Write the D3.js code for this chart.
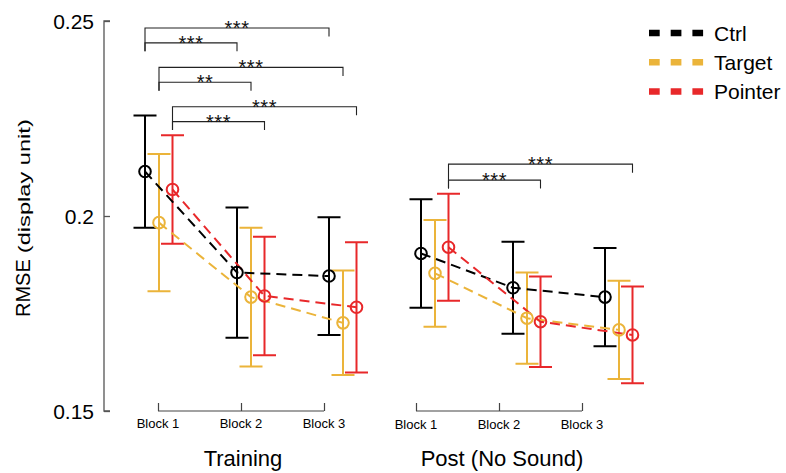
<!DOCTYPE html>
<html>
<head>
<meta charset="utf-8">
<script src="https://cdn.jsdelivr.net/npm/d3@7"></script>
<style>
  html, body { margin: 0; padding: 0; background: #fff; }
  svg { display: block; font-family: "Liberation Sans", Arial, Helvetica, sans-serif; }
</style>
</head>
<body>
<svg id="chart" width="786" height="473"></svg>
<script>
// ---- data ----
const panels = ["Training", "Post (No Sound)"];
const blocks = ["Block 1", "Block 2", "Block 3"];
const seriesNames = ["Ctrl", "Target", "Pointer"];
const seriesColors = ["#000000", "#EBB43A", "#E8282A"];

// mean RMSE per block: Training B1..B3, then Post B1..B3
const ctrlMean    = [0.2114, 0.1855, 0.1846, 0.1904, 0.1816, 0.1792];
const targetMean  = [0.1983, 0.1792, 0.1726, 0.1853, 0.1738, 0.1708];
const pointerMean = [0.2068, 0.1795, 0.1766, 0.1920, 0.1729, 0.1695];
// error bar half-widths
const ctrlErr    = [0.0144, 0.0167, 0.0151, 0.0139, 0.0118, 0.0126];
const targetErr  = [0.0176, 0.0178, 0.0134, 0.0137, 0.0117, 0.0126];
const pointerErr = [0.0139, 0.0152, 0.0167, 0.0137, 0.0116, 0.0124];

const yTicks = [0.15, 0.2, 0.25];
const yTickLabels = ["0.15", "0.2", "0.25"];

// pairwise comparisons: series index, panel, from block, to block, label, bracket height
const sigSeries = [0, 0, 1, 1, 2, 2, 2, 2];
const sigPanel  = [0, 0, 0, 0, 0, 0, 1, 1];
const sigFrom   = [0, 0, 0, 0, 0, 0, 0, 0];
const sigTo     = [2, 1, 2, 1, 2, 1, 2, 1];
const sigLabel  = ["***", "***", "***", "**", "***", "***", "***", "***"];
const sigLevel  = [0.2482, 0.2444, 0.2381, 0.2343, 0.2280, 0.2242, 0.2133, 0.2092];

// ---- layout ----
const svg = d3.select("#chart");
const y = d3.scaleLinear().domain([0.15, 0.25]).range([411, 21]);
const axisX = 104;

// mark positions: six block slots, series dodged around each slot
const xSlot = d3.scaleLinear().domain([0, 5]).range([159, 619]);
const dodge = d3.scaleOrdinal().domain(seriesNames).range([-14, 0, 13.5]);
// category axes, one per panel
const xAxisScales = [
  d3.scalePoint().domain(blocks).range([158, 324]),
  d3.scalePoint().domain(blocks).range([416, 582])
];
const panelCenters = [243, 502];

const means = [ctrlMean, targetMean, pointerMean];
const errs = [ctrlErr, targetErr, pointerErr];

const series = seriesNames.map((name, s) => ({
  name, color: seriesColors[s],
  points: means[s].map((m, i) => ({ slot: i, panel: Math.floor(i / 3), mean: m, err: errs[s][i] }))
}));
const px = (name, slot) => xSlot(slot) + dodge(name);

// ---- y axis ----
const yAxis = svg.append("g").attr("transform", `translate(${axisX},0)`)
  .call(d3.axisRight(y).tickValues(yTicks).tickSize(6).tickFormat(""));
yAxis.select(".domain").attr("d", `M6,${y(0.25)}H0V${y(0.15)}H6`).attr("stroke", "#555").attr("stroke-width", 1.3);
yAxis.selectAll(".tick line").attr("stroke", "#555").attr("stroke-width", 1.3);

svg.append("g").selectAll("text").data(yTicks).join("text")
  .attr("x", axisX - 10).attr("y", d => y(d)).attr("dy", "0.36em")
  .attr("text-anchor", "end").attr("font-size", 21).attr("fill", "#000")
  .text((d, i) => yTickLabels[i]);

const yLabel = svg.append("text")
  .attr("transform", `translate(30,317) rotate(-90)`)
  .attr("text-anchor", "start").attr("fill", "#000");
yLabel.append("tspan").attr("font-size", 20).text("RMSE");
yLabel.append("tspan").attr("font-size", 16).attr("dx", 6)
  .attr("textLength", 134).attr("lengthAdjust", "spacingAndGlyphs").text("(display unit)");

// ---- x axes ----
xAxisScales.forEach((sc, p) => {
  const g = svg.append("g").attr("transform", "translate(0,411)")
    .call(d3.axisTop(sc).tickSize(8).tickSizeOuter(0).tickFormat(""));
  g.select(".domain").attr("d", `M${sc(blocks[0])},0H${sc(blocks[2])}`).attr("stroke", "#444").attr("stroke-width", 1.2);
  g.selectAll(".tick line").attr("stroke", "#444").attr("stroke-width", 1.2);
  svg.append("g").selectAll("text").data(blocks).join("text")
    .attr("x", d => sc(d)).attr("y", 428 + p)
    .attr("text-anchor", "middle").attr("font-size", 13).attr("fill", "#000")
    .text(d => d);
  svg.append("text").attr("x", panelCenters[p]).attr("y", 466)
    .attr("text-anchor", "middle").attr("font-size", 22).attr("fill", "#000")
    .text(panels[p]);
});

// ---- error bars ----
const capHalf = 11.5;
series.forEach(s => {
  const g = svg.append("g").attr("stroke", s.color).attr("stroke-width", 2).attr("fill", "none");
  g.selectAll("path").data(s.points).join("path")
    .attr("d", d => {
      const x = px(s.name, d.slot), t = y(d.mean + d.err), b = y(d.mean - d.err);
      return `M${x - capHalf},${t}H${x + capHalf}M${x},${t}V${b}M${x - capHalf},${b}H${x + capHalf}`;
    });
});

// ---- dashed mean lines, one per panel ----
const line = d3.line().x(d => d.x).y(d => d.y);
series.forEach(s => {
  [0, 1].forEach(p => {
    const pts = s.points.filter(d => d.panel === p).map(d => ({ x: px(s.name, d.slot), y: y(d.mean) }));
    svg.append("path").attr("d", line(pts)).attr("fill", "none")
      .attr("stroke", s.color).attr("stroke-width", 2).attr("stroke-dasharray", "10,6");
  });
});

// ---- mean markers ----
series.forEach(s => {
  svg.append("g").selectAll("circle").data(s.points).join("circle")
    .attr("cx", d => px(s.name, d.slot)).attr("cy", d => y(d.mean)).attr("r", 5.8)
    .attr("fill", "none").attr("stroke", s.color).attr("stroke-width", 2);
});

// ---- significance brackets ----
const sig = sigLabel.map((lab, i) => ({
  s: sigSeries[i], panel: sigPanel[i], from: sigFrom[i], to: sigTo[i], label: lab, level: sigLevel[i]
}));
const legDrop = 8.5;
const sigG = svg.append("g");
sig.forEach(b => {
  const name = seriesNames[b.s];
  const x1 = px(name, b.panel * 3 + b.from), x2 = px(name, b.panel * 3 + b.to);
  const ly = y(b.level);
  const lowest = d3.min(sig.filter(o => o.s === b.s && o.panel === b.panel), o => o.level);
  const leftBottom = y(lowest) + legDrop;
  sigG.append("path")
    .attr("d", `M${x1},${leftBottom}V${ly}H${x2}V${ly + legDrop}`)
    .attr("fill", "none").attr("stroke", "#222").attr("stroke-width", 1.1);
  sigG.append("text").attr("x", (x1 + x2) / 2).attr("y", ly + 7)
    .attr("text-anchor", "middle").attr("font-size", 20).attr("letter-spacing", 0.5)
    .attr("fill", "#111").text(b.label);
});

// ---- legend ----
const leg = svg.append("g");
seriesNames.forEach((name, i) => {
  const ly = 33 + i * 29.3;
  leg.append("line").attr("x1", 649).attr("x2", 705).attr("y1", ly).attr("y2", ly)
    .attr("stroke", seriesColors[i]).attr("stroke-width", 6.5).attr("stroke-dasharray", "10.7,11");
  leg.append("text").attr("x", 714).attr("y", ly).attr("dy", "0.36em")
    .attr("font-size", 21).attr("fill", "#000").text(name);
});
</script>
</body>
</html>
